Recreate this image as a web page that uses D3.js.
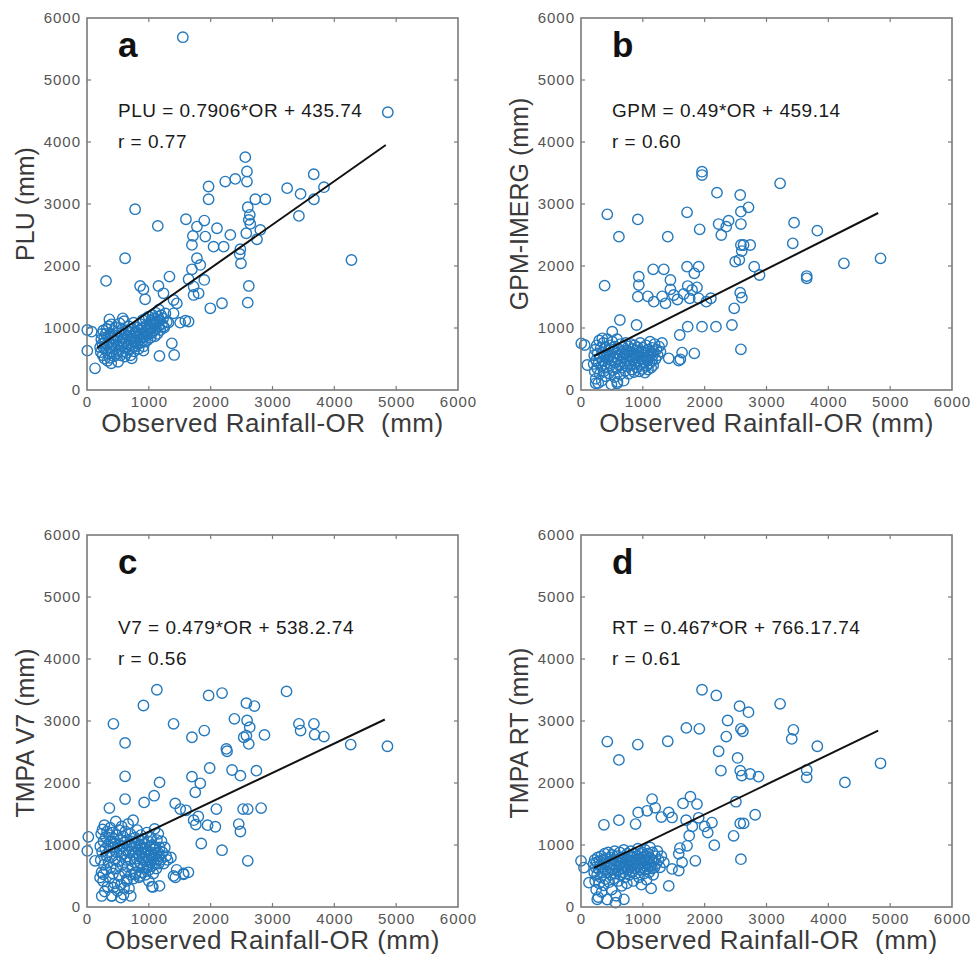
<!DOCTYPE html>
<html>
<head>
<meta charset="utf-8">
<script src="https://cdn.jsdelivr.net/npm/d3@7"></script>
<style>
  body { margin: 0; background: #fff; }
  text { font-family: "Liberation Sans", Arial, Helvetica, sans-serif; }
</style>
</head>
<body>
<script>
// axis ticks (both axes 0..6000 mm)
var axisTicks = [0, 1000, 2000, 3000, 4000, 5000, 6000];

var panelLetters = ["a", "b", "c", "d"];
var yLabels = ["PLU (mm)", "GPM-IMERG (mm)", "TMPA V7 (mm)", "TMPA RT (mm)"];
var xLabels = ["Observed Rainfall-OR  (mm)", "Observed Rainfall-OR (mm)",
               "Observed Rainfall-OR (mm)", "Observed Rainfall-OR  (mm)"];
var equations = ["PLU = 0.7906*OR + 435.74", "GPM = 0.49*OR + 459.14",
                 "V7 = 0.479*OR + 538.2.74", "RT = 0.467*OR + 766.17.74"];
var rValues = ["r = 0.77", "r = 0.60", "r = 0.56", "r = 0.61"];

// fitted line end points [OR, product] as drawn
var fitLines = [
  [[162, 677], [4832, 3952]],
  [[210, 548], [4806, 2855]],
  [[211, 841], [4816, 3024]],
  [[210, 630], [4806, 2846]]
];

// [OR, PLU]
var pointsA = [
  [1550,5690],[4865,4480],[3667,3480],[2560,3755],[2587,3524],[2587,3362],[2236,3362],[2398,3405],
  [1966,3282],[1966,3077],[3237,3255],[3454,3163],[3832,3271],[3670,3077],[3427,2808],[2722,3077],
  [2884,3077],[2600,2948],[2633,2825],[2617,2743],[2641,2679],[2576,2528],[2803,2582],[2749,2430],
  [2470,2194],[2490,2043],[2480,2270],[2617,1678],[2600,1409],[4277,2097],[778,2916],[1145,2647],
  [1600,2754],[1778,2636],[1897,2733],[1913,2474],[1713,2485],[1697,2340],[2102,2609],[2318,2501],
  [2210,2312],[2047,2312],[1778,2125],[1832,2017],[1697,1947],[1897,1775],[1643,1786],[1724,1668],
  [1724,1533],[1805,1560],[1994,1318],[2183,1399],[1334,1829],[616,2125],[308,1759],[859,1678],
  [913,1624],[1156,1678],[1237,1560],[940,1463],[1400,1452],[1453,1398],[1400,1237],[1643,1103],
  [1507,1086],[1318,1086],[1372,753],[1410,565],[1172,549],[913,635],[724,511],[130,350],[5,635],
  [5,968],[76,941],[362,1140],[578,1156],[1590,1118],[1238,1027],
  [212,690],[224,610],[231,820],[238,905],[247,745],[255,560],[263,960],[271,680],[279,845],[284,505],
  [293,770],[301,905],[309,640],[316,985],[322,735],[333,470],[339,860],[347,590],[353,1030],[361,770],
  [368,520],[377,905],[384,690],[392,430],[397,1060],[405,620],[413,835],[421,950],[428,735],[437,545],
  [445,880],[452,660],[461,790],[468,1005],[476,585],[487,850],[495,720],[503,455],[511,935],[519,640],
  [527,1075],[536,790],[544,560],[551,890],[559,705],[567,980],[575,615],[584,830],[592,745],[601,1110],
  [609,540],[616,905],[624,680],[633,800],[641,960],[648,600],[657,870],[664,735],[672,1030],[681,650],
  [689,815],[697,920],[705,560],[713,765],[721,860],[729,985],[737,695],[745,825],[753,1085],[761,625],
  [769,905],[777,770],[785,940],[793,705],[801,850],[809,1005],[817,745],[826,880],[834,665],[842,960],
  [849,805],[857,1065],[866,900],[874,760],[882,995],[891,845],[899,1125],[907,925],[915,705],[923,1015],
  [931,860],[939,780],[948,1150],[956,940],[964,885],[972,1045],[980,805],[988,965],[997,1185],[1005,905],
  [1013,1065],[1021,985],[1030,845],[1038,1125],[1046,1005],[1055,925],[1063,1205],[1071,1085],[1080,960],
  [1088,1145],[1096,865],[1105,1045],[1113,1245],[1121,985],[1130,1105],[1139,905],[1147,1185],[1156,1025],
  [1164,1295],[1173,1125],[1185,965],[1198,1205],[1214,1065],[1231,1155],[1249,1005],[1268,1235],[1290,1095]
];

// [OR, GPM-IMERG]
var pointsB = [
  [1957,3521],[1957,3467],[3220,3333],[2199,3183],[2575,3145],[2709,2946],[2586,2876],[1715,2865],
  [425,2833],[919,2752],[2226,2677],[2387,2731],[2349,2634],[2586,2677],[1919,2591],[2269,2500],
  [613,2473],[1403,2473],[3446,2699],[3425,2365],[3822,2570],[2586,2339],[2629,2339],[2736,2339],
  [2600,2240],[2494,2070],[2560,2100],[2801,1989],[2887,1855],[3650,1838],[3650,1801],[4252,2043],
  [4844,2124],[382,1683],[935,1828],[935,1693],[919,1505],[1167,1946],[1339,1946],[1446,1774],
  [1446,1624],[1715,1989],[1903,1989],[1833,1882],[1726,1677],[1796,1613],[1876,1656],[1661,1548],
  [1758,1479],[1903,1479],[2027,1425],[2100,1480],[1081,1511],[1177,1425],[1312,1511],[1366,1398],
  [1500,1532],[1560,1460],[2575,1570],[2602,1489],[2478,1317],[2441,1048],[1957,1021],[2183,1021],
  [1726,1021],[1597,887],[629,1129],[898,1048],[2586,656],[1833,591],[1607,495],[1419,511],[1581,473],
  [1635,603],[5,753],[59,726],[102,403],[344,833],[505,941],[237,108],[586,107],
  [205,420],[214,560],[222,300],[230,650],[238,180],[246,480],[254,720],[262,350],[270,590],[279,110],
  [287,440],[295,800],[303,260],[311,530],[320,680],[328,390],[336,150],[344,610],[352,470],[360,760],
  [369,300],[377,540],[385,420],[393,690],[401,220],[409,580],[418,360],[426,820],[434,490],[442,640],
  [450,270],[459,540],[467,720],[475,400],[483,600],[492,90],[500,470],[508,780],[516,320],[524,650],
  [533,530],[541,210],[549,700],[557,440],[566,590],[574,350],[582,820],[590,130],[599,500],[607,660],
  [615,400],[624,560],[632,250],[640,740],[648,460],[657,610],[665,360],[673,520],[682,690],[690,150],
  [698,430],[707,580],[715,310],[723,760],[732,500],[740,640],[748,380],[757,560],[765,700],[773,260],
  [782,470],[790,620],[798,400],[807,740],[815,540],[823,330],[832,660],[840,480],[849,590],[857,290],
  [865,720],[874,520],[882,420],[890,640],[899,560],[907,360],[916,690],[924,470],[932,600],[941,300],
  [949,540],[958,760],[966,420],[974,620],[983,500],[991,340],[1000,680],[1008,560],[1016,440],[1025,610],
  [1033,280],[1042,520],[1050,720],[1058,390],[1067,600],[1075,480],[1084,330],[1092,650],[1100,540],
  [1109,430],[1117,780],[1126,580],[1134,360],[1143,480],[1151,680],[1160,560],[1168,400],[1177,620],
  [1190,740],[1205,500],[1222,650],[1240,560],[1262,700],[1285,620],[1310,760]
];

// [OR, TMPA V7]
var pointsC = [
  [1130,3504],[913,3250],[1967,3412],[2184,3450],[3227,3477],[2578,3288],[2708,3240],[427,2954],
  [1400,2954],[2384,3035],[2589,3008],[2632,2900],[1897,2846],[1697,2738],[616,2647],[2578,2765],
  [2535,2738],[2616,2630],[2870,2776],[3427,2954],[3454,2846],[3670,2954],[3681,2781],[3832,2749],
  [4265,2620],[4859,2593],[2254,2550],[2265,2512],[1984,2242],[2346,2210],[2481,2118],[2740,2199],
  [616,2107],[1697,2102],[1832,1994],[1173,2010],[1086,1795],[616,1741],[362,1595],[924,1687],
  [1427,1671],[1508,1579],[1751,1849],[2092,1579],[2076,1294],[2454,1337],[2481,1218],[2524,1579],
  [2600,1579],[2816,1595],[1848,1024],[2184,916],[2600,744],[22,1132],[5,905],[130,744],[1725,1400],
  [1760,1330],[1800,1460],[1600,1560],[1950,1320],[1640,560],[1560,540],[1450,600],[1430,480],
  [238,178],[400,178],[546,151],[708,178],[427,312],[211,474],[265,528],[600,312],[643,447],[778,528],
  [859,501],[978,636],[1065,323],[1173,340],[1400,501],[1562,528],[1357,798],[1050,330],[1000,420],
  [215,980],[222,760],[229,1180],[236,560],[244,890],[251,1250],[259,420],[266,1060],[273,680],[281,1320],
  [288,250],[295,940],[303,1130],[310,600],[318,820],[325,1220],[333,330],[340,1010],[347,720],[355,1160],
  [362,470],[369,900],[377,1280],[384,640],[392,1060],[399,180],[406,820],[414,1200],[421,540],[428,960],
  [436,1100],[443,380],[451,760],[458,1020],[465,1380],[473,620],[480,880],[488,1160],[495,260],[502,1000],
  [510,740],[517,1240],[524,500],[532,940],[539,1080],[547,360],[554,820],[561,1300],[569,680],[576,980],
  [584,1140],[591,200],[598,860],[606,1040],[613,560],[620,1220],[628,760],[635,920],[643,420],[650,1080],
  [657,650],[665,1340],[672,880],[680,300],[687,1000],[694,760],[702,1180],[709,520],[717,940],[724,1060],
  [731,620],[739,840],[746,1400],[754,460],[761,980],[768,720],[776,1120],[783,880],[791,560],[798,1020],
  [805,780],[813,1240],[820,660],[828,920],[835,1080],[842,480],[850,820],[857,1000],[865,700],[872,1160],
  [879,880],[887,560],[894,960],[902,760],[909,1100],[916,640],[924,880],[931,1020],[939,740],[946,520],
  [953,940],[961,820],[968,1200],[976,680],[983,900],[990,1060],[998,760],[1005,600],[1012,980],[1020,840],
  [1027,720],[1035,1120],[1042,880],[1049,660],[1057,1000],[1064,780],[1072,540],[1079,940],[1086,830],
  [1094,1260],[1101,700],[1109,960],[1116,860],[1123,620],[1131,1080],[1138,760],[1146,880],[1153,1180],
  [1160,700],[1168,820],[1175,960],[1190,760],[1205,1060],[1222,880],[1240,700],[1258,960],[1280,820],
  [1302,760]
];

// [OR, TMPA RT]
var pointsD = [
  [1957,3504],[2188,3412],[3220,3277],[2564,3239],[2709,3142],[2371,3008],[1704,2889],[1914,2873],
  [425,2668],[1403,2673],[919,2619],[613,2372],[2349,2749],[2586,2873],[2618,2835],[3435,2857],
  [3408,2711],[3822,2593],[2226,2512],[2263,2199],[2532,2404],[2575,2199],[2600,2120],[2736,2145],
  [2871,2102],[3650,2210],[3650,2091],[4268,2010],[4844,2318],[2505,1698],[1769,1779],[1650,1671],
  [1876,1660],[1150,1741],[925,1525],[1070,1552],[882,1337],[1419,1525],[1473,1444],[1300,1450],
  [1200,1600],[2817,1488],[2575,1348],[2630,1348],[2468,1148],[2156,997],[2586,771],[1849,744],
  [371,1326],[613,1401],[0,744],[48,636],[129,393],[263,124],[559,70],[694,124],[1419,340],[1700,1400],
  [1750,1150],[1800,1300],[2000,1300],[2050,1200],[2118,1362],[1903,1439],[1600,950],[1340,720],
  [1473,614],[1581,587],[1581,857],[1635,720],[1715,987],
  [205,700],[213,560],[221,760],[229,420],[237,640],[245,280],[253,720],[261,520],[270,800],[278,160],
  [286,610],[294,380],[302,740],[310,680],[318,480],[326,820],[334,240],[342,640],[350,560],[358,760],
  [367,350],[375,700],[383,860],[391,600],[399,450],[407,780],[415,680],[423,120],[431,560],[440,880],
  [448,720],[456,400],[464,640],[472,800],[480,520],[488,700],[497,280],[505,840],[513,600],[521,760],
  [529,460],[537,680],[545,900],[553,540],[562,740],[570,180],[578,640],[586,820],[594,580],[602,420],
  [610,760],[618,660],[627,880],[635,520],[643,700],[651,800],[659,340],[667,620],[675,760],[684,560],
  [692,920],[700,680],[708,480],[716,800],[724,640],[732,720],[741,380],[749,860],[757,600],[765,760],
  [773,700],[781,520],[790,820],[798,640],[806,900],[814,740],[822,560],[830,680],[839,800],[847,420],
  [855,720],[863,860],[871,620],[879,760],[888,540],[896,700],[904,820],[912,660],[920,940],[929,760],
  [937,480],[945,700],[953,860],[961,600],[969,780],[978,360],[986,720],[994,880],[1002,640],[1010,800],
  [1019,540],[1027,740],[1035,920],[1043,660],[1051,820],[1060,440],[1068,760],[1076,620],[1084,860],
  [1093,700],[1101,560],[1109,800],[1117,960],[1125,660],[1134,300],[1142,760],[1150,620],[1158,880],
  [1167,520],[1175,740],[1188,640],[1202,820],[1218,700],[1236,900],[1256,760],[1278,640],[1300,820]
];

var allPoints = [pointsA, pointsB, pointsC, pointsD];

// page layout
var W = 973, H = 960,
    plotW = 371, plotH = 372,
    colX = [87, 581], rowY = [18, 535],
    yLabelShift = [0, 12];   // bottom row y titles sit a little lower

var axisColor = "#7a7a7a",
    textColor = "#3a3a3a",
    markColor = "#2479bd";

var svg = d3.select("body").append("svg")
    .attr("width", W)
    .attr("height", H);

panelLetters.forEach(function(letter, i) {
  var row = Math.floor(i / 2);
  var x0 = colX[i % 2], y0 = rowY[row];

  var g = svg.append("g")
      .attr("transform", "translate(" + x0 + "," + y0 + ")");

  var x = d3.scaleLinear().domain([0, 6000]).range([0, plotW]);
  var y = d3.scaleLinear().domain([0, 6000]).range([plotH, 0]);

  // tick labels (MATLAB style, ticks drawn inside the box)
  var xAxis = g.append("g")
      .attr("transform", "translate(0," + plotH + ")")
      .call(d3.axisBottom(x).tickValues(axisTicks).tickSize(0).tickPadding(6)
        .tickFormat(d3.format("d")));
  var yAxis = g.append("g")
      .call(d3.axisLeft(y).tickValues(axisTicks).tickSize(0).tickPadding(6)
        .tickFormat(d3.format("d")));
  [xAxis, yAxis].forEach(function(ax) {
    ax.select(".domain").remove();
    ax.selectAll("text")
        .attr("fill", "#555")
        .style("font-size", "15px")
        .style("letter-spacing", "1px")
        .style("font-family", "'Liberation Sans', Arial, sans-serif");
  });

  // inward ticks on all four sides
  var inner = axisTicks.slice(1, -1);
  var ticks = g.append("g")
      .attr("stroke", axisColor)
      .attr("stroke-width", 1.2);
  ticks.selectAll(".tb").data(inner).enter().append("line")
      .attr("x1", function(d) { return x(d); }).attr("x2", function(d) { return x(d); })
      .attr("y1", plotH).attr("y2", plotH - 4);
  ticks.selectAll(".tt").data(inner).enter().append("line")
      .attr("x1", function(d) { return x(d); }).attr("x2", function(d) { return x(d); })
      .attr("y1", 0).attr("y2", 4);
  ticks.selectAll(".tl").data(inner).enter().append("line")
      .attr("y1", function(d) { return y(d); }).attr("y2", function(d) { return y(d); })
      .attr("x1", 0).attr("x2", 4);
  ticks.selectAll(".tr").data(inner).enter().append("line")
      .attr("y1", function(d) { return y(d); }).attr("y2", function(d) { return y(d); })
      .attr("x1", plotW).attr("x2", plotW - 4);

  // scatter
  g.append("g").selectAll("circle")
      .data(allPoints[i])
      .enter().append("circle")
      .attr("cx", function(d) { return x(d[0]); })
      .attr("cy", function(d) { return y(d[1]); })
      .attr("r", 5.2)
      .attr("fill", "none")
      .attr("stroke", markColor)
      .attr("stroke-width", 1.4);

  // fitted line
  g.append("path")
      .datum(fitLines[i])
      .attr("d", d3.line()
        .x(function(d) { return x(d[0]); })
        .y(function(d) { return y(d[1]); }))
      .attr("stroke", "#111")
      .attr("stroke-width", 2)
      .attr("fill", "none");

  // box
  g.append("rect")
      .attr("width", plotW)
      .attr("height", plotH)
      .attr("fill", "none")
      .attr("stroke", axisColor)
      .attr("stroke-width", 1.6);

  // panel letter and annotations
  g.append("text")
      .attr("x", 31).attr("y", 39)
      .attr("font-size", "35px")
      .attr("font-weight", 700)
      .attr("fill", "#111")
      .text(letter);
  g.append("text")
      .attr("x", 31).attr("y", 99)
      .attr("font-size", "19px")
      .style("letter-spacing", "0.5px")
      .attr("fill", "#1a1a1a")
      .text(equations[i]);
  g.append("text")
      .attr("x", 31).attr("y", 130)
      .attr("font-size", "19px")
      .style("letter-spacing", "0.5px")
      .attr("fill", "#1a1a1a")
      .text(rValues[i]);

  // axis titles
  g.append("text")
      .attr("x", plotW / 2).attr("y", plotH + 42)
      .attr("text-anchor", "middle")
      .attr("font-size", "26px")
      .style("letter-spacing", "0.5px")
      .style("white-space", "pre")
      .attr("fill", textColor)
      .text(xLabels[i]);
  g.append("text")
      .attr("transform", "translate(-53," + (plotH / 2 + yLabelShift[row]) + ") rotate(-90)")
      .attr("text-anchor", "middle")
      .attr("font-size", "25px")
      .attr("fill", textColor)
      .text(yLabels[i]);
});
</script>
</body>
</html>
